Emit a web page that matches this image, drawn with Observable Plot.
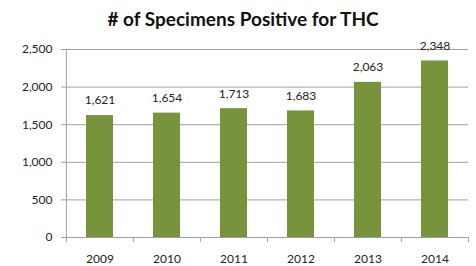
<!DOCTYPE html>
<html><head><meta charset="utf-8">
<script src="https://cdn.jsdelivr.net/npm/d3@7"></script>
<script src="https://cdn.jsdelivr.net/npm/@observablehq/plot@0.6"></script>
<style>
body{margin:0;background:#fff;}
#title{font-family:Lato,"Open Sans",sans-serif;font-weight:700;font-size:19px;color:#111;height:36px;line-height:38px;text-align:center;padding-left:10px;box-sizing:border-box;width:476px;}
</style></head><body>
<div id="title"># of Specimens Positive for THC</div>
<div id="chart"></div>
<script>
const years = ["2009","2010","2011","2012","2013","2014"];
const counts = [1621,1654,1713,1683,2063,2348];
const yTicks = [0,500,1000,1500,2000,2500];

const data = years.map((y,i)=>({year:y,count:counts[i]}));
const W = 476, H = 230, mL = 65, mR = 8;
const step = (W - mL - mR) / years.length;
const grid = "#a0a0a0";
const font = "Lato, 'Open Sans', sans-serif";
const fmt = d3.format(",");

const chart = Plot.plot({
  width: W, height: H,
  marginLeft: mL, marginRight: mR, marginTop: 13, marginBottom: 29,
  style: {fontFamily: font, fontSize: "12px", color: "#222", background: "#fff"},
  x: {domain: years, paddingInner: 0.6, paddingOuter: 0.3},
  y: {domain: [0,2500]},
  marks: [
    Plot.gridY(yTicks, {stroke: grid, strokeOpacity: 1, strokeWidth: 1}),
    Plot.axisY(yTicks, {tickFormat: fmt, tickSize: 4, tickPadding: 9, stroke: grid, strokeOpacity: 1, fontSize: 12, label: null}),
    Plot.axisX({tickSize: 0, tickPadding: 17, fontSize: 12, label: null}),
    Plot.axisX(years, {tickSize: 5, text: null, dx: -step/2, stroke: grid, strokeWidth: 1, strokeOpacity: 1, label: null}),
    Plot.axisX([years[years.length-1]], {tickSize: 5, text: null, dx: step/2, stroke: grid, strokeWidth: 1, strokeOpacity: 1, label: null}),
    Plot.barY(data, {x: "year", y: "count", fill: "#77933c"}),
    Plot.text(data, {x: "year", y: "count", text: d => fmt(d.count), dy: -15, fontSize: 12, fill: "#222"}),
    Plot.ruleY([0], {stroke: grid}),
    Plot.ruleX([years[0]], {y1: 0, y2: 2500, dx: -step/2, stroke: grid})
  ]
});
document.getElementById("chart").appendChild(chart);
</script>
</body></html>
